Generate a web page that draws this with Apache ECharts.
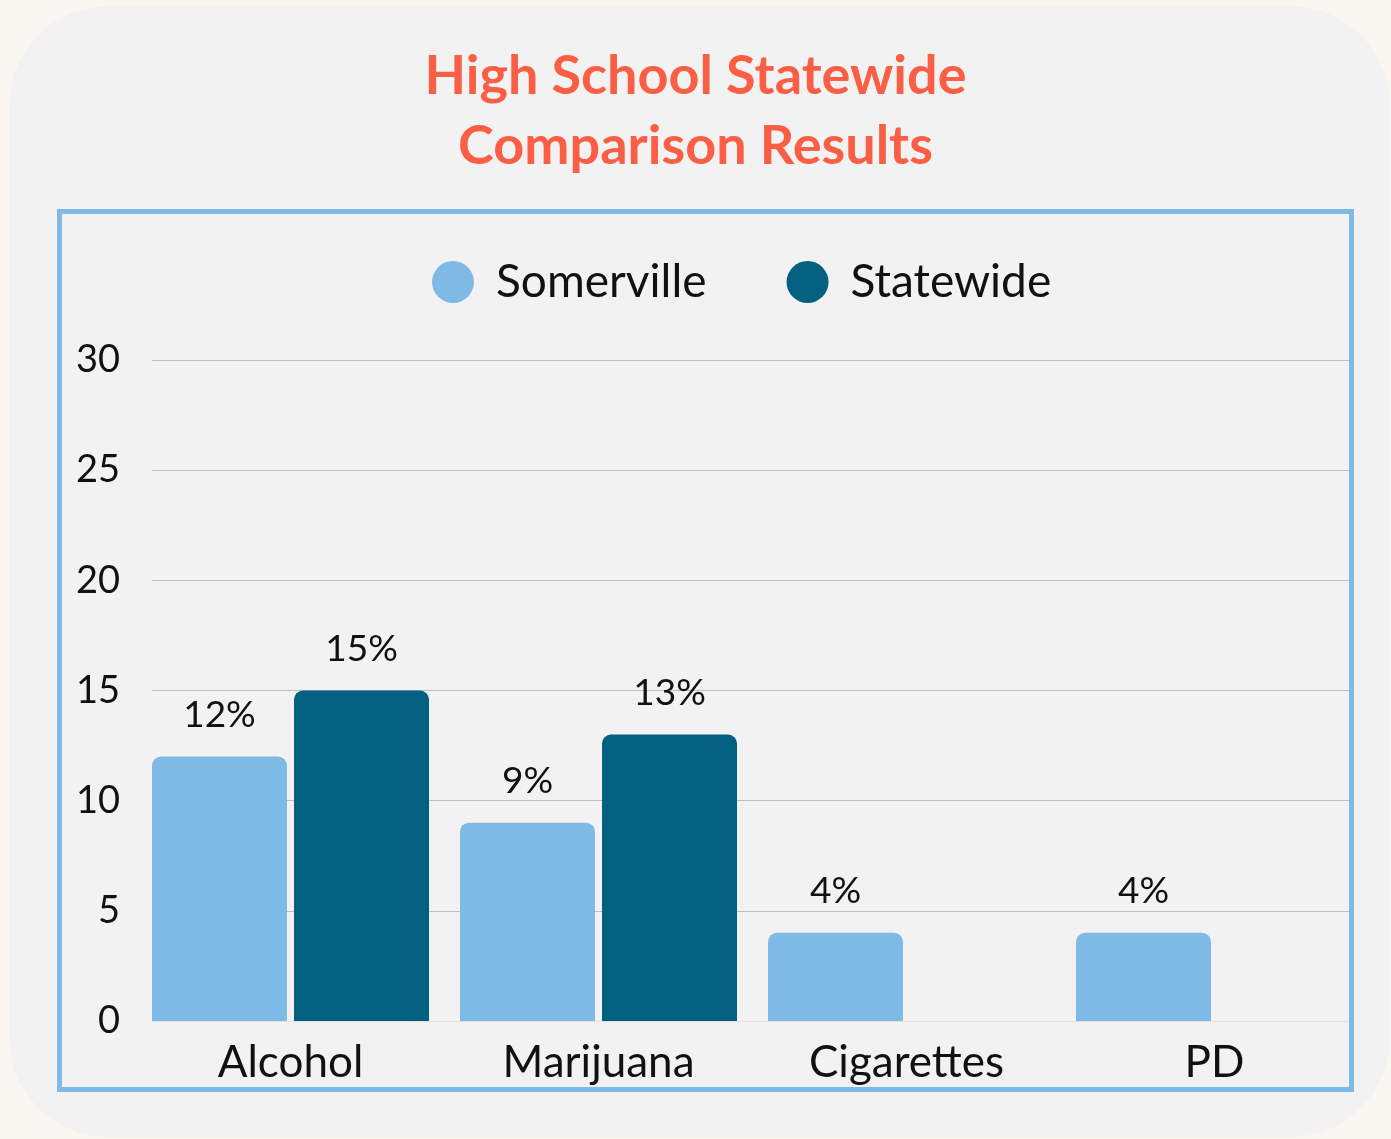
<!DOCTYPE html>
<html>
<head>
<meta charset="utf-8">
<title>High School Statewide Comparison Results</title>
<script src="https://cdn.jsdelivr.net/npm/echarts@6/dist/echarts.min.js"></script>
<style>
  html, body { margin: 0; padding: 0; background: #faf6f1; }
  #chart { width: 1391px; height: 1139px; }
</style>
</head>
<body>
<div id="chart"></div>
<script>
// Substance use categories and percentages
const categories = ['Alcohol', 'Marijuana', 'Cigarettes', 'PD'];
const somerville = [12, 9, 4, 4];
const statewide = [15, 13, null, null];
const yTicks = [0, 5, 10, 15, 20, 25, 30];

const FONT = 'Lato, "Open Sans", sans-serif';
const LIGHT = '#7fbae7';
const DARK = '#046080';

const chart = echarts.init(document.getElementById('chart'), null, { renderer: 'canvas' });

const yMin = yTicks[0];
const yMax = yTicks[yTicks.length - 1];
const yStep = yTicks[1] - yTicks[0];

chart.setOption({
  backgroundColor: '#faf6f1',
  animation: false,
  graphic: [
    {
      type: 'rect', z: -10, silent: true,
      shape: { x: 9, y: 6, width: 1381, height: 1131, r: 100 },
      style: { fill: '#f2f2f2' }
    },
    {
      type: 'rect', z: 100, silent: true,
      shape: { x: 59.5, y: 211.5, width: 1292, height: 878 },
      style: { fill: null, stroke: '#7fbae7', lineWidth: 5 }
    }
  ],
  title: {
    text: 'High School Statewide\nComparison Results',
    left: 'center',
    top: 37,
    textStyle: {
      fontFamily: FONT,
      fontWeight: 'bold',
      fontSize: 54,
      lineHeight: 70,
      color: '#fa5f45'
    }
  },
  legend: {
    left: 427,
    top: 254,
    itemWidth: 42,
    itemHeight: 42,
    itemGap: 80,
    icon: 'circle',
    data: ['Somerville', 'Statewide'],
    textStyle: {
      fontFamily: FONT,
      fontSize: 46,
      color: '#111',
      padding: [0, 0, 0, 17]
    }
  },
  grid: [
    // gridline / value-label grid
    { left: 152, right: 39, top: 360, height: 661 },
    // bar grid
    { left: 136.5, right: 22.5, top: 360, height: 661 }
  ],
  xAxis: [
    {
      gridIndex: 0, type: 'category', data: categories,
      axisLine: { show: true, lineStyle: { color: '#e2e2e2', width: 1 } },
      axisTick: { show: false }, axisLabel: { show: false }, splitLine: { show: false }
    },
    {
      gridIndex: 1, type: 'category', data: categories,
      axisLine: { show: false }, axisTick: { show: false },
      axisLabel: { fontFamily: FONT, fontSize: 44, color: '#111', margin: 20 }
    }
  ],
  yAxis: [
    {
      gridIndex: 0, type: 'value', min: yMin, max: yMax, interval: yStep,
      axisLine: { show: false }, axisTick: { show: false },
      axisLabel: { fontFamily: FONT, fontSize: 38, color: '#111', margin: 32 },
      splitLine: { show: true, lineStyle: { color: '#bdbdbd', width: 1 } }
    },
    {
      gridIndex: 1, type: 'value', min: yMin, max: yMax, interval: yStep,
      axisLine: { show: false }, axisTick: { show: false },
      axisLabel: { show: false }, splitLine: { show: false }
    }
  ],
  series: [
    {
      name: 'Somerville', type: 'bar', xAxisIndex: 1, yAxisIndex: 1,
      data: somerville, barWidth: 135, barGap: '5.2%',
      itemStyle: { color: LIGHT, borderRadius: [9, 9, 0, 0] },
      label: {
        show: true, position: 'top', distance: 23, formatter: '{c}%',
        fontFamily: FONT, fontSize: 37, color: '#111'
      }
    },
    {
      name: 'Statewide', type: 'bar', xAxisIndex: 1, yAxisIndex: 1,
      data: statewide, barWidth: 135, barGap: '5.2%',
      itemStyle: { color: DARK, borderRadius: [9, 9, 0, 0] },
      label: {
        show: true, position: 'top', distance: 23, formatter: '{c}%',
        fontFamily: FONT, fontSize: 37, color: '#111'
      }
    }
  ]
});
</script>
</body>
</html>
